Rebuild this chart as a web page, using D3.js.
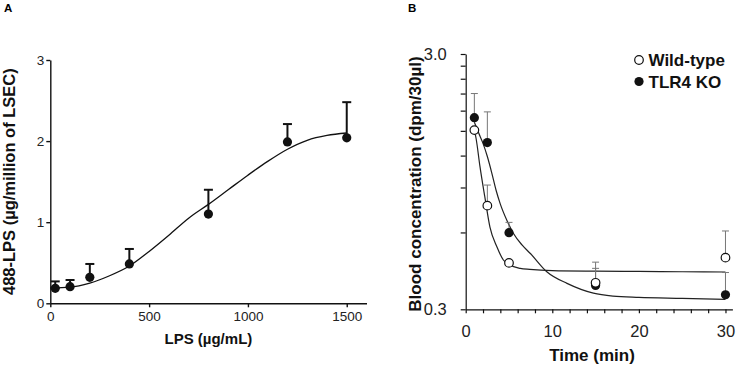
<!DOCTYPE html>
<html>
<head>
<meta charset="utf-8">
<script src="https://cdn.jsdelivr.net/npm/d3@7"></script>
<style>
  body { margin: 0; background: #fff; }
  text { font-family: Arial, "Liberation Sans", sans-serif; }
</style>
</head>
<body>
<div id="chart"></div>
<script>
// panel A - LPS uptake by LSEC
let lpsDose = [25, 100, 200, 400, 800, 1200, 1500];
let lpsUptake = [0.185, 0.205, 0.32, 0.485, 1.10, 1.99, 2.04];
let lpsUptakeErr = [0.085, 0.082, 0.165, 0.185, 0.30, 0.22, 0.44];
let fitDose = [0, 100, 200, 300, 400, 500, 600, 700, 800, 900, 1000, 1100, 1200, 1300, 1400, 1500];
let fitUptake = [0.19, 0.20, 0.25, 0.34, 0.46, 0.64, 0.84, 1.05, 1.22, 1.40, 1.58, 1.75, 1.90, 2.01, 2.07, 2.10];
let doseTicks = [0, 500, 1000, 1500];
let uptakeTicks = [0, 1, 2, 3];

// panel B - blood clearance
let timeMin = [1, 2.5, 5, 15, 30];
let wildConc = [1.51, 0.764, 0.456, 0.381, 0.478];
let wildErrTop = [1.51, 0.92, 0.456, 0.459, 0.608];
let koConc = [1.69, 1.35, 0.599, 0.372, 0.342];
let koErrTop = [2.10, 1.78, 0.657, 0.434, 0.418];
let wildFitTime = [1, 1.2, 1.65, 2.2, 2.8, 3.6, 4.35, 5.1, 6.3, 7.4, 10, 15, 20, 25, 30];
let wildFitConc = [1.51, 1.40, 1.086, 0.83, 0.63, 0.527, 0.468, 0.447, 0.434, 0.43, 0.425, 0.423, 0.422, 0.421, 0.42];
let koFitTime = [1, 1.5, 2, 2.5, 3, 3.5, 4, 4.75, 5.5, 6.5, 7.5, 9.4, 11.7, 14.75, 17, 20, 25, 30];
let koFitConc = [1.62, 1.47, 1.34, 1.19, 1.03, 0.88, 0.775, 0.67, 0.596, 0.536, 0.495, 0.42, 0.379, 0.347, 0.338, 0.334, 0.331, 0.328];
let timeTicks = d3.range(0, 31, 2);
let concTicks = [0.3, 0.6, 0.9, 1.2, 1.5, 1.8, 2.1, 2.4, 2.7, 3.0];
let concTickLabels = ["0.3", "", "", "", "", "", "", "", "", "3.0"];
let seriesNames = ["Wild-type", "TLR4 KO"];

let svg = d3.select("#chart")
  .append("svg")
  .attr("width", 736)
  .attr("height", 368);

// ---------- panel A ----------
let xA = d3.scaleLinear().domain([0, 1600]).range([50.3, 366.5]);
let yA = d3.scaleLinear().domain([0, 3]).range([303.3, 60]);

let gA = svg.append("g");

gA.append("g")
  .attr("transform", `translate(0, ${yA(0)})`)
  .call(d3.axisBottom(xA).tickValues(doseTicks).tickFormat(d => d)
    .tickSize(4).tickPadding(4).tickSizeOuter(0))
  .call(g => g.selectAll("text").attr("font-size", 13.5).attr("fill", "#222"));

gA.append("g")
  .attr("transform", `translate(${xA(0)}, 0)`)
  .call(d3.axisLeft(yA).tickValues(uptakeTicks).tickFormat(d => d)
    .tickSize(4).tickPadding(2).tickSizeOuter(0))
  .call(g => g.selectAll("text").attr("font-size", 13.5).attr("fill", "#222"));

gA.selectAll(".domain, .tick line").attr("stroke", "#111").attr("stroke-width", 1.4);

let lineA = d3.line()
  .x(d => xA(d[0]))
  .y(d => yA(d[1]))
  .curve(d3.curveMonotoneX);

gA.append("path")
  .datum(d3.zip(fitDose, fitUptake))
  .attr("d", lineA)
  .attr("fill", "none")
  .attr("stroke", "#111")
  .attr("stroke-width", 1.3);

lpsDose.forEach(function(dose, i) {
  let top = yA(lpsUptake[i] + lpsUptakeErr[i]);
  gA.append("line")
    .attr("x1", xA(dose)).attr("x2", xA(dose))
    .attr("y1", yA(lpsUptake[i])).attr("y2", top)
    .attr("stroke", "#111").attr("stroke-width", 2);
  gA.append("line")
    .attr("x1", xA(dose) - 4.5).attr("x2", xA(dose) + 4.5)
    .attr("y1", top).attr("y2", top)
    .attr("stroke", "#111").attr("stroke-width", 2);
});

gA.selectAll("circle")
  .data(lpsDose)
  .enter()
  .append("circle")
  .attr("cx", d => xA(d))
  .attr("cy", (d, i) => yA(lpsUptake[i]))
  .attr("r", 4.6)
  .attr("fill", "#111");

gA.append("text")
  .attr("transform", `translate(15, ${(yA(0) + yA(3)) / 2}) rotate(-90)`)
  .attr("text-anchor", "middle")
  .attr("font-size", 16.5)
  .attr("font-weight", "bold")
  .attr("fill", "#111")
  .text("488-LPS (µg/million of LSEC)");

gA.append("text")
  .attr("x", (xA(0) + xA(1600)) / 2)
  .attr("y", 344)
  .attr("text-anchor", "middle")
  .attr("font-size", 15)
  .attr("font-weight", "bold")
  .attr("fill", "#111")
  .text("LPS (µg/mL)");

svg.append("text")
  .attr("x", 4).attr("y", 12)
  .attr("font-size", 11.5)
  .attr("font-weight", "bold")
  .text("A");

// ---------- panel B ----------
let xB = d3.scaleLinear().domain([0, 30.8]).range([465.7, 732.4]);
let yB = d3.scaleLog().domain([0.3, 3]).range([309.3, 54]);

let gB = svg.append("g");

gB.append("g")
  .attr("transform", `translate(0, ${yB(0.3)})`)
  .call(d3.axisBottom(xB).tickValues(timeTicks)
    .tickFormat(d => d % 10 === 0 ? d : "")
    .tickSize(4).tickPadding(12).tickSizeOuter(0))
  .call(g => g.selectAll("text").attr("font-size", 16.5).attr("fill", "#222"));

gB.append("g")
  .attr("transform", `translate(${xB(0)}, 0)`)
  .call(d3.axisLeft(yB).tickValues(concTicks)
    .tickFormat((d, i) => concTickLabels[i])
    .tickSize(5).tickPadding(14).tickSizeOuter(0))
  .call(g => g.selectAll("text").attr("font-size", 16.5).attr("fill", "#222"));

gB.selectAll(".domain, .tick line").attr("stroke", "#111").attr("stroke-width", 1.2);

let lineB = d3.line()
  .x(d => xB(d[0]))
  .y(d => yB(d[1]))
  .curve(d3.curveMonotoneX);

gB.append("path")
  .datum(d3.zip(wildFitTime, wildFitConc))
  .attr("d", lineB)
  .attr("fill", "none")
  .attr("stroke", "#222")
  .attr("stroke-width", 1.2);

gB.append("path")
  .datum(d3.zip(koFitTime, koFitConc))
  .attr("d", lineB)
  .attr("fill", "none")
  .attr("stroke", "#222")
  .attr("stroke-width", 1.2);

function errBars(vals, tops) {
  timeMin.forEach(function(t, i) {
    if (tops[i] <= vals[i]) return;
    gB.append("line")
      .attr("x1", xB(t)).attr("x2", xB(t))
      .attr("y1", yB(vals[i])).attr("y2", yB(tops[i]))
      .attr("stroke", "#777").attr("stroke-width", 1);
    gB.append("line")
      .attr("x1", xB(t) - 3.5).attr("x2", xB(t) + 3.5)
      .attr("y1", yB(tops[i])).attr("y2", yB(tops[i]))
      .attr("stroke", "#777").attr("stroke-width", 1);
  });
}
errBars(koConc, koErrTop);
errBars(wildConc, wildErrTop);

gB.selectAll(".ko")
  .data(timeMin)
  .enter()
  .append("circle")
  .attr("class", "ko")
  .attr("cx", d => xB(d))
  .attr("cy", (d, i) => yB(koConc[i]))
  .attr("r", 4.6)
  .attr("fill", "#111");

gB.selectAll(".wt")
  .data(timeMin)
  .enter()
  .append("circle")
  .attr("class", "wt")
  .attr("cx", d => xB(d))
  .attr("cy", (d, i) => yB(wildConc[i]))
  .attr("r", 4.3)
  .attr("fill", "#fff")
  .attr("stroke", "#111")
  .attr("stroke-width", 1.2);

// legend
let legend = gB.append("g");
seriesNames.forEach(function(name, i) {
  let cy = 60 + i * 21.5;
  legend.append("circle")
    .attr("cx", 639).attr("cy", cy)
    .attr("r", i === 0 ? 4.3 : 4.6)
    .attr("fill", i === 0 ? "#fff" : "#111")
    .attr("stroke", "#111")
    .attr("stroke-width", i === 0 ? 1.2 : 0);
  legend.append("text")
    .attr("x", 648.5).attr("y", cy + 6.3)
    .attr("font-size", 17)
    .attr("font-weight", "bold")
    .attr("fill", "#111")
    .text(name);
});

gB.append("text")
  .attr("transform", `translate(421, 184) rotate(-90)`)
  .attr("text-anchor", "middle")
  .attr("font-size", 17)
  .attr("font-weight", "bold")
  .attr("fill", "#111")
  .text("Blood concentration (dpm/30µl)");

gB.append("text")
  .attr("x", 592)
  .attr("y", 361)
  .attr("text-anchor", "middle")
  .attr("font-size", 17)
  .attr("font-weight", "bold")
  .attr("fill", "#111")
  .text("Time (min)");

svg.append("text")
  .attr("x", 408).attr("y", 12)
  .attr("font-size", 11.5)
  .attr("font-weight", "bold")
  .text("B");
</script>
</body>
</html>
